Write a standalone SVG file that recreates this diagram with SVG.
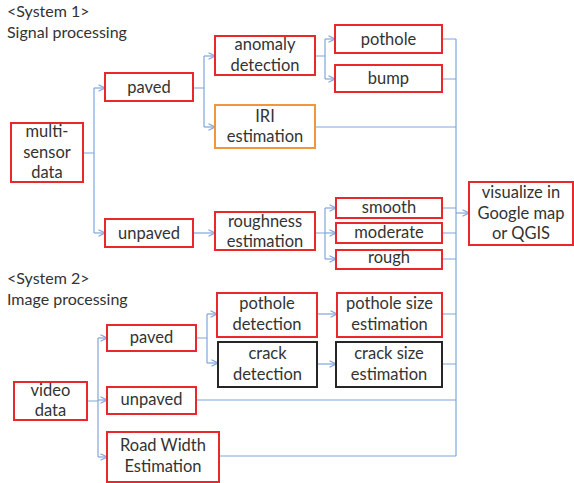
<svg xmlns="http://www.w3.org/2000/svg" width="574" height="483" viewBox="0 0 574 483">
<style>
text{font-family:Lato,"Open Sans","Liberation Sans",sans-serif;font-size:16.5px;fill:#333;text-anchor:middle}
.title{text-anchor:start;font-size:16px}
.r{fill:#fff;stroke:#e8282b;stroke-width:2}
.o{fill:#fff;stroke:#f0963c;stroke-width:2}
.k{fill:#fff;stroke:#262626;stroke-width:2}
.c path{fill:none;stroke:#7fa6dc;stroke-width:1.2}
.c .a{marker-end:url(#arr)}
</style>
<defs>
<marker id="arr" markerUnits="userSpaceOnUse" viewBox="0 0 8 8" refX="7.5" refY="4" markerWidth="8" markerHeight="8" orient="auto">
<path d="M1,0.8 L7.5,4 L1,7.2" fill="none" stroke="#7fa6dc" stroke-width="1.2"/>
</marker>
</defs>
<text class="title" x="7" y="17">&lt;System 1&gt;</text>
<text class="title" x="7" y="38">Signal processing</text>
<text class="title" x="7" y="284">&lt;System 2&gt;</text>
<text class="title" x="7" y="305">Image processing</text>
<g class="c" id="connectors">
<path d="M83,153 H94 M94,88 V233"/>
<path class="a" d="M94,88 H105"/>
<path class="a" d="M94,233 H105"/>
<path d="M193,88 H204 M204,56 V127"/>
<path class="a" d="M204,56 H215"/>
<path class="a" d="M204,127 H215"/>
<path d="M315,56 H325 M325,39 V79"/>
<path class="a" d="M325,39 H335"/>
<path class="a" d="M325,79 H335"/>
<path class="a" d="M193,233 H215"/>
<path d="M315,233 H325 M325,208 V259"/>
<path class="a" d="M325,208 H336"/>
<path class="a" d="M325,233 H336"/>
<path class="a" d="M325,259 H336"/>
<path d="M442,39 H456 M442,79 H456 M315,127 H456 M442,208 H456 M442,233 H456 M442,259 H456"/>
<path d="M456,39 V456"/>
<path class="a" d="M456,213 H469"/>
<path d="M87,401 H98 M98,338 V457"/>
<path class="a" d="M98,338 H107"/>
<path class="a" d="M98,400 H107"/>
<path class="a" d="M98,457 H107"/>
<path d="M196,338 H207 M207,314 V363"/>
<path class="a" d="M207,314 H217"/>
<path class="a" d="M207,363 H218"/>
<path class="a" d="M317,314 H337"/>
<path class="a" d="M317,364 H336"/>
<path d="M442,314 H456 M442,364 H456 M196,400 H456 M219,456 H456"/>
</g>
<g id="multi-sensor"><rect class="r" x="11" y="123" width="72" height="59"/><text x="47" y="137">multi-</text><text x="47" y="158">sensor</text><text x="47" y="178">data</text></g>
<g id="paved1"><rect class="r" x="105" y="73" width="88" height="28"/><text x="149" y="93">paved</text></g>
<g id="unpaved1"><rect class="r" x="105" y="219" width="88" height="28"/><text x="149" y="239">unpaved</text></g>
<g id="anomaly"><rect class="r" x="215" y="36" width="100" height="39"/><text x="265" y="50">anomaly</text><text x="265" y="71">detection</text></g>
<g id="iri"><rect class="o" x="215" y="105" width="100" height="43"/><text x="265" y="122">IRI</text><text x="265" y="142">estimation</text></g>
<g id="pothole1"><rect class="r" x="335" y="25" width="107" height="28"/><text x="388.5" y="45">pothole</text></g>
<g id="bump"><rect class="r" x="335" y="65" width="107" height="27"/><text x="388.5" y="84">bump</text></g>
<g id="roughness"><rect class="r" x="215" y="212" width="100" height="38"/><text x="265" y="227">roughness</text><text x="265" y="247">estimation</text></g>
<g id="smooth"><rect class="r" x="336" y="198" width="106" height="20"/><text x="389" y="213">smooth</text></g>
<g id="moderate"><rect class="r" x="336" y="223" width="106" height="20"/><text x="389" y="238">moderate</text></g>
<g id="rough"><rect class="r" x="336" y="250" width="106" height="19"/><text x="389" y="263">rough</text></g>
<g id="visualize"><rect class="r" x="469" y="182" width="104" height="63"/><text x="521" y="198">visualize in</text><text x="521" y="219">Google map</text><text x="521" y="239">or QGIS</text></g>
<g id="video"><rect class="r" x="14" y="382" width="73" height="38"/><text x="50.5" y="396">video</text><text x="50.5" y="416">data</text></g>
<g id="paved2"><rect class="r" x="107" y="325" width="89" height="26"/><text x="151.5" y="343">paved</text></g>
<g id="unpaved2"><rect class="r" x="107" y="387" width="89" height="27"/><text x="151.5" y="405">unpaved</text></g>
<g id="roadwidth"><rect class="r" x="107" y="432" width="112" height="50"/><text x="163" y="451">Road Width</text><text x="163" y="472">Estimation</text></g>
<g id="potholedet"><rect class="r" x="217" y="293" width="100" height="44"/><text x="267" y="309">pothole</text><text x="267" y="330">detection</text></g>
<g id="crackdet"><rect class="k" x="218" y="342" width="99" height="45"/><text x="267.5" y="359">crack</text><text x="267.5" y="380">detection</text></g>
<g id="potholesize"><rect class="r" x="337" y="293" width="105" height="44"/><text x="389.5" y="309">pothole size</text><text x="389.5" y="330">estimation</text></g>
<g id="cracksize"><rect class="k" x="336" y="342" width="106" height="45"/><text x="389" y="359">crack size</text><text x="389" y="380">estimation</text></g>
</svg>
